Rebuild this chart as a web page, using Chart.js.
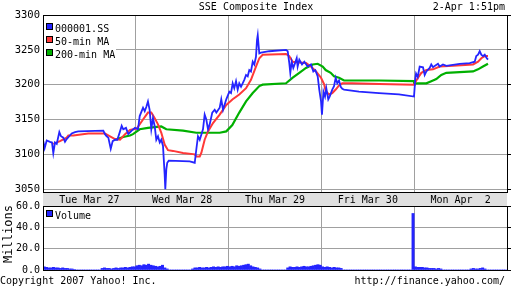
<!DOCTYPE html>
<html>
<head>
<meta charset="utf-8">
<script src="https://cdn.jsdelivr.net/npm/chart.js@4.4.1/dist/chart.umd.min.js"></script>
<style>
  body { margin: 0; background: #fff; }
  #wrap { position: relative; width: 512px; height: 288px; overflow: hidden;
          font-family: "DejaVu Sans Mono", monospace; font-size: 10px; color: #000; }
  #price { position: absolute; left: 0; top: 0; }
  #volume { position: absolute; left: 0; top: 199px; }
  .txt { position: absolute; white-space: pre; line-height: 14px; }
  #legend { position: absolute; left: 44px; top: 16px; width: 72px; height: 42px; background: #fff; }
  .row { position: absolute; left: 2px; height: 13px; line-height: 13px; white-space: pre; }
  .sw { display: inline-block; width: 5px; height: 5px; border: 1px solid #000; margin-right: 2px; vertical-align: 2px; }
  #millions { position: absolute; left: -22px; top: 227px; width: 60px; text-align: center;
              font-size: 12px; line-height: 14px; transform: rotate(-90deg); }
</style>
</head>
<body>
<div id="wrap">
  <canvas id="price" width="512" height="206"></canvas>
  <canvas id="volume" width="512" height="74"></canvas>

  <div class="txt" style="left:0; top:0; width:512px; text-align:center;">SSE Composite Index</div>
  <div class="txt" style="right:7px; top:0;">2-Apr 1:51pm</div>

  <div id="legend">
    <div class="row" style="top:6px;"><span class="sw" style="background:#2424ff"></span>000001.SS</div>
    <div class="row" style="top:19px;"><span class="sw" style="background:#ff3838"></span>50-min MA</div>
    <div class="row" style="top:32px;"><span class="sw" style="background:#00b000"></span>200-min MA</div>
  </div>
  <div class="txt" style="left:46px; top:209px;"><span class="sw" style="background:#2424ff"></span>Volume</div>
  <div id="millions">Millions</div>

  <div class="txt" style="left:0; top:274px;">Copyright 2007 Yahoo! Inc.</div>
  <div class="txt" style="right:7px; top:274px;">http://finance.yahoo.com/</div>
</div>

<script>
// x = trading day, 0 = Tue 27 open, 5 = Mon 2 close (each day 9:30 - 15:00)

var dayLabels = ['Tue Mar 27', 'Wed Mar 28', 'Thu Mar 29', 'Fri Mar 30', 'Mon Apr  2'];
var priceTicks = [3050, 3100, 3150, 3200, 3250, 3300];
var volTicks = [0, 20, 40, 60];

// 000001.SS
var priceT = [0.003, 0.018, 0.040, 0.075, 0.097, 0.111, 0.129, 0.148, 0.176, 0.194, 0.219, 0.237, 0.255, 0.283, 0.309, 0.345, 0.380,
  0.650, 0.668, 0.686, 0.704, 0.730, 0.751, 0.776, 0.801, 0.830, 0.848, 0.865, 0.894, 0.919, 0.956, 0.991,
  1.024, 1.042, 1.078, 1.096, 1.113, 1.131, 1.149, 1.167, 1.185, 1.204, 1.221, 1.239, 1.258, 1.275, 1.293, 1.311, 1.318, 1.329, 1.339, 1.355,
  1.581, 1.635, 1.652, 1.670, 1.689, 1.724, 1.742, 1.760, 1.778, 1.796, 1.824, 1.850, 1.868, 1.904, 1.921, 1.940, 1.975,
  2.008, 2.026, 2.044, 2.061, 2.080, 2.098, 2.115, 2.134, 2.169, 2.188, 2.206, 2.223, 2.241, 2.260, 2.277, 2.295, 2.306, 2.314, 2.324, 2.331, 2.349,
  2.439, 2.619, 2.637, 2.654, 2.665, 2.680, 2.697, 2.716, 2.734, 2.744, 2.762, 2.791, 2.816, 2.852, 2.888, 2.913, 2.934, 2.960, 2.977, 2.996,
  3.006, 3.022, 3.039, 3.053, 3.074, 3.089, 3.117, 3.136, 3.154, 3.171, 3.190, 3.208, 3.225, 3.244, 3.405, 3.621, 3.836, 3.998,
  4.012, 4.020, 4.038, 4.059, 4.095, 4.113, 4.131, 4.167, 4.184, 4.203, 4.221, 4.256, 4.275, 4.310, 4.346, 4.490, 4.598, 4.652,
  4.669, 4.688, 4.706, 4.723, 4.741, 4.760, 4.777, 4.795];
var priceV = [3119, 3109, 3120, 3118, 3117, 3102, 3117, 3115, 3132, 3126, 3124, 3118, 3122, 3126, 3130, 3132, 3133,
  3134, 3129, 3126, 3124, 3108, 3119, 3121, 3121, 3133, 3141, 3136, 3138, 3129, 3134, 3138,
  3136, 3155, 3167, 3162, 3168, 3176, 3164, 3136, 3152, 3140, 3121, 3126, 3117, 3121, 3112, 3071, 3050, 3079, 3088, 3091,
  3090, 3088, 3107, 3126, 3121, 3136, 3157, 3150, 3136, 3143, 3160, 3164, 3160, 3167, 3179, 3164, 3179,
  3190, 3188, 3202, 3195, 3205, 3193, 3202, 3197, 3207, 3214, 3212, 3221, 3219, 3233, 3229, 3240, 3264, 3271, 3255, 3245, 3246,
  3248, 3250, 3248, 3231, 3217, 3233, 3224, 3231, 3238, 3226, 3236, 3229, 3233, 3226, 3229, 3219, 3221, 3212, 3193, 3176,
  3157, 3190, 3183, 3195, 3179, 3183, 3193, 3198, 3210, 3202, 3206, 3197, 3194, 3193, 3190, 3188, 3186, 3183,
  3209, 3216, 3211, 3226, 3225, 3214, 3219, 3224, 3229, 3225, 3227, 3230, 3226, 3229, 3227, 3230, 3231, 3233,
  3241, 3243, 3248, 3243, 3241, 3243, 3239, 3236];

// 50-min MA
var ma50T = [0.111, 0.183, 0.255, 0.273, 0.327, 0.488, 0.668, 0.722, 0.776, 0.830, 0.884, 0.938,
  1.010, 1.078, 1.131, 1.167, 1.204, 1.239, 1.275, 1.311, 1.347, 1.401, 1.509, 1.635, 1.652, 1.689, 1.706, 1.742, 1.778, 1.832, 1.904, 1.975,
  2.044, 2.115, 2.188, 2.241, 2.295, 2.331, 2.367, 2.619, 2.654, 2.691, 2.762, 2.834, 2.888, 2.942, 2.996,
  3.031, 3.046, 3.082, 3.117, 3.154, 3.190, 3.225, 3.330, 3.621, 3.998,
  4.005, 4.041, 4.077, 4.131, 4.203, 4.275, 4.418, 4.634, 4.688, 4.723, 4.760, 4.795];
var ma50V = [3115, 3119, 3124, 3127, 3127, 3130, 3130, 3126, 3122, 3121, 3129, 3135,
  3137, 3150, 3160, 3160, 3152, 3143, 3131, 3114, 3106, 3105, 3102, 3100, 3097, 3097, 3102, 3121, 3133, 3145, 3157, 3171,
  3179, 3186, 3195, 3207, 3226, 3238, 3243, 3244, 3241, 3233, 3232, 3231, 3226, 3219, 3210,
  3200, 3191, 3186, 3188, 3193, 3199, 3202, 3202, 3201, 3200,
  3202, 3210, 3217, 3221, 3222, 3226, 3227, 3229, 3233, 3238, 3241, 3241];

// 200-min MA
var ma200T = [0.776, 0.865, 0.938, 0.970, 1.042, 1.131, 1.275, 1.329, 1.509, 1.652, 1.904, 1.975,
  2.040, 2.115, 2.188, 2.260, 2.331, 2.367, 2.619, 2.691, 2.762, 2.834, 2.906, 2.960,
  3.014, 3.046, 3.100, 3.136, 3.190, 3.244, 3.621, 3.998,
  4.000, 4.131, 4.184, 4.238, 4.292, 4.346, 4.490, 4.634, 4.688, 4.741, 4.795];
var ma200V = [3121, 3125, 3127, 3129, 3136, 3138, 3140, 3136, 3134, 3131, 3131, 3133,
  3142, 3160, 3176, 3188, 3198, 3200, 3202, 3210, 3217, 3224, 3229, 3230,
  3226, 3221, 3217, 3212, 3210, 3206, 3206, 3205,
  3202, 3202, 3205, 3208, 3214, 3217, 3218, 3219, 3222, 3226, 3230];

// volume, millions, 40 bins per day
var binsPerDay = 40;
var volTue = [3, 2.5, 2, 2, 2.5, 2, 2, 1.5, 2, 1.5, 1.5, 1, 1, 0.5, 0, 0, 0, 0, 0, 0, 0, 0, 0, 0, 0,
  1.5, 2, 1.5, 1.5, 1, 1.5, 2, 1.5, 2, 2, 2.5, 2, 2.5, 3, 3];
var volWed = [4, 4.5, 4, 5, 4.5, 5.5, 4.5, 4, 3.5, 3, 3.5, 4.5, 2, 1, 0, 0, 0, 0, 0, 0, 0, 0, 0, 0,
  1, 2, 2, 2.5, 2, 2, 2.5, 2, 2.5, 3, 2.5, 3, 2.5, 3, 3, 3.5];
var volThu = [3, 3.5, 3, 4, 3.5, 4, 4.5, 5, 5.5, 4, 3, 2.5, 2, 1, 0, 0, 0, 0, 0, 0, 0, 0, 0, 0, 0,
  2, 3, 2.5, 2.5, 3, 2.5, 3, 3.5, 3, 3, 3.5, 4, 4.5, 5, 4.5];
var volFri = [3, 2.5, 3, 2.5, 2, 2.5, 2, 2, 1.5, 0, 0, 0, 0, 0, 0, 0, 0, 0, 0, 0, 0, 0, 0, 0, 0,
  0, 0, 0, 0, 0, 0, 0, 0, 0, 0, 0, 0, 0, 0, 53];
var volMon = [3, 2.5, 2.5, 2.5, 2, 2, 1.5, 1.5, 1.5, 1, 1.5, 1, 0, 0, 0, 0, 0, 0, 0, 0, 0, 0, 0, 0,
  1, 1.5, 1, 1, 1.5, 2, 1, 0, 0, 0, 0, 0, 0, 0, 0, 0];

var mono = 'DejaVu Sans Mono';
var gridGray = '#a0a0a0';

function pts(t, v) {
  return t.map(function (x, i) { return { x: x, y: v[i] }; });
}

var volPts = [];
[volTue, volWed, volThu, volFri, volMon].forEach(function (arr, d) {
  arr.forEach(function (v, i) { volPts.push({ x: d + (i + 0.5) / binsPerDay, y: v }); });
});

var dayTicks = [];
for (var d = 0; d <= dayLabels.length; d++) {
  dayTicks.push(d);
  if (d < dayLabels.length) dayTicks.push(d + 0.5);
}

function setTicks(list) {
  return function (s) { s.ticks = list.map(function (v) { return { value: v }; }); };
}

// frame round the plot + grey date band under the price panel
var frame = {
  id: 'frame',
  beforeDraw: function (c) {
    if (c.canvas.id !== 'price') return;
    var a = c.chartArea;
    c.ctx.fillStyle = '#e0e0e0';
    c.ctx.fillRect(a.left, a.bottom, a.right - a.left, c.height - a.bottom);
  },
  afterDraw: function (c) {
    var a = c.chartArea, ctx = c.ctx;
    ctx.save();
    ctx.strokeStyle = '#000';
    ctx.lineWidth = 1;
    ctx.strokeRect(a.left + 0.5, a.top + 0.5, a.right - a.left, a.bottom - a.top);
    ctx.restore();
  }
};

function rightAxis(min, max, list) {
  return {
    position: 'right', min: min, max: max,
    afterBuildTicks: setTicks(list),
    ticks: { display: false },
    grid: { drawOnChartArea: false, drawTicks: true, tickLength: 4, color: '#000' },
    border: { color: '#000' },
    afterFit: function (s) { s.width = 5; s.paddingTop = 0; s.paddingBottom = 0; }
  };
}

new Chart(document.getElementById('price'), {
  type: 'line',
  data: {
    datasets: [
      { label: '000001.SS', data: pts(priceT, priceV), borderColor: '#2424ff', borderWidth: 1.8 },
      { label: '50-min MA', data: pts(ma50T, ma50V), borderColor: '#ff3838', borderWidth: 2 },
      { label: '200-min MA', data: pts(ma200T, ma200V), borderColor: '#00b000', borderWidth: 2.2 }
    ]
  },
  options: {
    responsive: false,
    animation: false,
    layout: { padding: { top: 15, left: 0, right: 0, bottom: 0 } },
    elements: { point: { radius: 0 }, line: { tension: 0 } },
    plugins: { legend: { display: false }, tooltip: { enabled: false } },
    scales: {
      x: {
        type: 'linear', min: 0, max: 5,
        afterBuildTicks: setTicks(dayTicks),
        ticks: {
          autoSkip: false, maxRotation: 0, padding: 2, color: '#000',
          font: { family: mono, size: 10 },
          callback: function (v) { return v % 1 ? dayLabels[Math.floor(v)] : ''; }
        },
        grid: {
          drawTicks: false,
          color: function (c) { return c.tick && c.tick.value % 1 === 0 ? gridGray : 'rgba(0,0,0,0)'; }
        },
        border: { color: '#000' },
        afterFit: function (s) { s.height = 14; s.paddingLeft = 0; s.paddingRight = 0; }
      },
      y: {
        min: 3046, max: 3300,
        afterBuildTicks: setTicks(priceTicks),
        ticks: { padding: 3, color: '#000', font: { family: mono, size: 10.5 },
                 callback: function (v) { return String(v); } },
        grid: { drawTicks: false, color: gridGray },
        border: { color: '#000' },
        afterFit: function (s) { s.width = 43; s.paddingTop = 0; s.paddingBottom = 0; }
      },
      yr: rightAxis(3046, 3300, priceTicks)
    }
  },
  plugins: [frame]
});

new Chart(document.getElementById('volume'), {
  type: 'bar',
  data: {
    datasets: [
      { label: 'Volume', data: volPts, backgroundColor: '#2424ff', borderWidth: 0,
        barPercentage: 1, categoryPercentage: 1 }
    ]
  },
  options: {
    responsive: false,
    animation: false,
    layout: { padding: { top: 7, left: 0, right: 0, bottom: 3 } },
    plugins: { legend: { display: false }, tooltip: { enabled: false } },
    scales: {
      x: {
        type: 'linear', min: 0, max: 5, offset: false,
        afterBuildTicks: setTicks([0, 1, 2, 3, 4, 5]),
        ticks: { display: false },
        grid: { drawTicks: false, color: gridGray, offset: false },
        border: { color: '#000' },
        afterFit: function (s) { s.height = 0; s.paddingLeft = 0; s.paddingRight = 0; }
      },
      y: {
        min: 0, max: 60,
        afterBuildTicks: setTicks(volTicks),
        ticks: { padding: 3, color: '#000', font: { family: mono, size: 10 },
                 callback: function (v) { return v.toFixed(1); } },
        grid: { drawTicks: false, color: gridGray },
        border: { color: '#000' },
        afterFit: function (s) { s.width = 43; s.paddingTop = 0; s.paddingBottom = 0; }
      },
      yr: rightAxis(0, 60, volTicks)
    }
  },
  plugins: [frame]
});
</script>
</body>
</html>
